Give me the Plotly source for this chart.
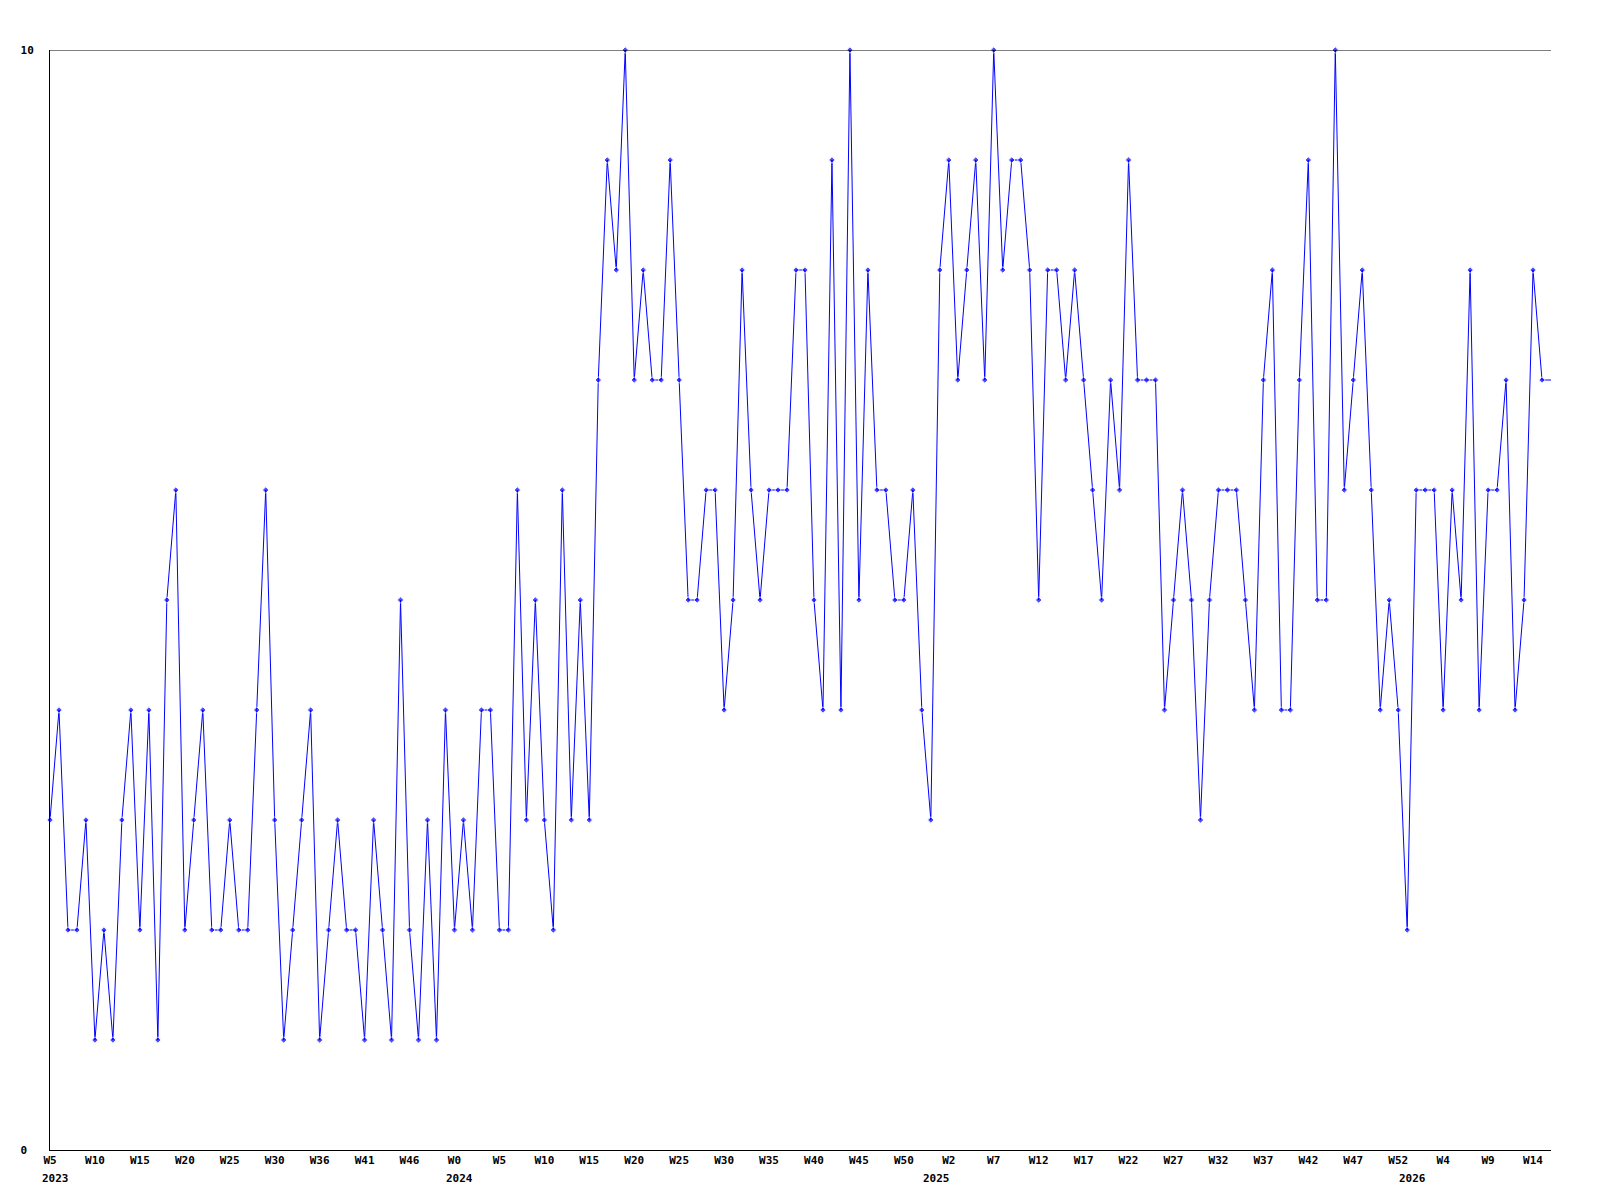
import plotly.graph_objects as go

# =========================
# data: weekly counts, W5 2023 .. W15 2026
# =========================
values = [
    3, 4, 2, 2, 3, 1, 2, 1, 3, 4, 2, 4, 1, 5, 6, 2, 3, 4, 2, 2,
    3, 2, 2, 4, 6, 3, 1, 2, 3, 4, 1, 2, 3, 2, 2, 1, 3, 2, 1, 5,
    2, 1, 3, 1, 4, 2, 3, 2, 4, 4, 2, 2, 6, 3, 5, 3, 2, 6, 3, 5,
    3, 7, 9, 8, 10, 7, 8, 7, 7, 9, 7, 5, 5, 6, 6, 4, 5, 8, 6, 5,
    6, 6, 6, 8, 8, 5, 4, 9, 4, 10, 5, 8, 6, 6, 5, 5, 6, 4, 3, 8,
    9, 7, 8, 9, 7, 10, 8, 9, 9, 8, 5, 8, 8, 7, 8, 7, 6, 5, 7, 6,
    9, 7, 7, 7, 4, 5, 6, 5, 3, 5, 6, 6, 6, 5, 4, 7, 8, 4, 4, 7,
    9, 5, 5, 10, 6, 7, 8, 6, 4, 5, 4, 2, 6, 6, 6, 4, 6, 5, 8, 4,
    6, 6, 7, 4, 5, 8, 7, 7,
]

week_labels = [
    "W5", "W10", "W15", "W20", "W25", "W30", "W36", "W41", "W46",
    "W0", "W5", "W10", "W15", "W20", "W25", "W30", "W35", "W40", "W45", "W50",
    "W2", "W7", "W12", "W17", "W22", "W27", "W32", "W37", "W42", "W47", "W52",
    "W4", "W9", "W14",
]
week_step = 5

years = ["2023", "2024", "2025", "2026"]
year_start = [0, 45, 98, 151]

x = list(range(len(values)))
tick_idx = [i * week_step for i in range(len(week_labels))]

FONT = dict(family="DejaVu Sans Mono", size=11, color="black", weight="bold")
BLUE = "#0000FF"

# last value is the running week: line only, no marker
sizes = [5] * (len(values) - 1) + [0]

fig = go.Figure()
fig.add_trace(go.Scatter(
    x=x, y=values,
    mode="lines+markers",
    line=dict(color=BLUE, width=1),
    marker=dict(symbol="diamond", size=sizes, color=BLUE),
    cliponaxis=False,
    showlegend=False,
))

for yr, start in zip(years, year_start):
    fig.add_annotation(
        x=start, y=0, xref="x", yref="paper",
        text=yr, showarrow=False,
        xanchor="left", yanchor="top",
        xshift=-10, yshift=-20,
        font=FONT,
    )

# top frame line at y = 10
fig.add_shape(type="line", xref="paper", yref="y",
              x0=0, x1=1, y0=10, y1=10,
              line=dict(color="black", width=1))

# page body has an 8px margin, so the figure is 16px smaller
fig.update_layout(
    width=1584, height=1184,
    margin=dict(l=42, r=41, t=42, b=42),
    plot_bgcolor="white", paper_bgcolor="white",
    font=FONT,
)
fig.update_xaxes(
    range=[0, len(values) - 1],
    tickvals=tick_idx, ticktext=week_labels,
    tickangle=0,
    showgrid=False, zeroline=False,
    showline=True, linecolor="black", linewidth=1,
    ticks="", tickfont=FONT,
)
fig.update_yaxes(
    range=[0, 10],
    tickvals=[0, 10], ticktext=["0\u00a0", "10"],
    showgrid=False,
    zeroline=False,
    showline=True, linecolor="black", linewidth=1,
    ticks="", ticklabelstandoff=13, tickfont=FONT,
)

fig.write_html("out.html")
